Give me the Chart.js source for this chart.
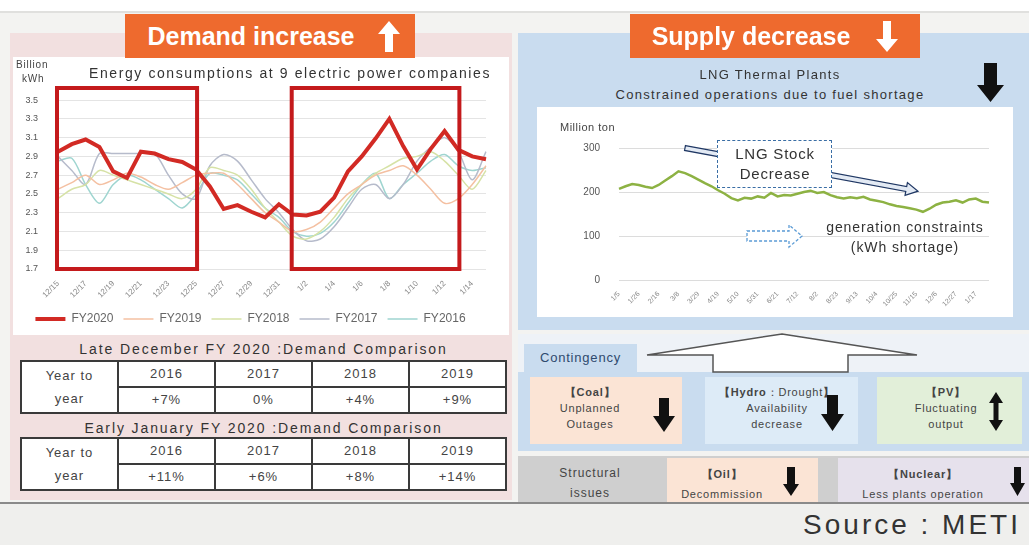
<!DOCTYPE html>
<html><head><meta charset="utf-8">
<script src="https://cdn.jsdelivr.net/npm/chart.js@4.4.1/dist/chart.umd.min.js"></script>
<style>
html,body{margin:0;padding:0;background:#fff}
#root{position:relative;width:1029px;height:545px;overflow:hidden;background:#f3f3f1;font-family:"Liberation Sans",Arial,sans-serif;color:#333}
.a{position:absolute}
.t{position:absolute;white-space:nowrap;text-align:center}
table.cmp{position:absolute;border-collapse:collapse;background:#fff;font-size:13px;letter-spacing:1px;color:#444;table-layout:fixed}
table.cmp td{border:2px solid #3a3a3a;text-align:center;padding:0;height:24px;line-height:16px}
.box{position:absolute}
.sm{font-size:11px;letter-spacing:0.8px;line-height:16px;color:#444}
</style></head>
<body>
<div id="root">
  <div class="a" style="left:0;top:0;width:1029px;height:11px;background:#fff"></div>
  <div class="a" style="left:0;top:11px;width:1029px;height:2px;background:#e0e0de"></div>

  <!-- left panel -->
  <div class="a" style="left:10px;top:33px;width:502px;height:467px;background:#f2e0e0"></div>
  <div class="a" style="left:13px;top:57px;width:496px;height:278px;background:#fff"></div>
  <canvas id="left" class="a" width="493" height="278" style="left:15px;top:57px"></canvas>
  <div class="t" style="left:72px;top:65px;width:436px;font-size:14px;letter-spacing:1.6px;color:#333">Energy consumptions at 9 electric power companies</div>
  <div class="t" style="left:16px;top:59px;width:44px;font-size:10px;letter-spacing:0.8px;color:#444;text-align:left">Billion</div>
  <div class="t" style="left:22px;top:73px;width:40px;font-size:10px;letter-spacing:0.8px;color:#444;text-align:left">kWh</div>

  <div class="t" style="left:20px;top:341px;width:487px;font-size:14px;letter-spacing:1.9px;color:#333">Late December FY 2020 :Demand Comparison</div>
  <table class="cmp" id="tab1" style="left:20px;top:360px;width:487px"></table>
  <div class="t" style="left:20px;top:420px;width:487px;font-size:14px;letter-spacing:1.9px;color:#333">Early January FY 2020 :Demand Comparison</div>
  <table class="cmp" id="tab2" style="left:20px;top:437px;width:487px"></table>

  <!-- right panel -->
  <div class="a" style="left:518px;top:33px;width:511px;height:297px;background:#c9dcef"></div>
  <div class="a" style="left:537px;top:107px;width:476px;height:210px;background:#fff"></div>
  <canvas id="right" class="a" width="476" height="210" style="left:537px;top:107px"></canvas>
  <div class="t" style="left:590px;top:67px;width:360px;font-size:13px;letter-spacing:1.3px;color:#333">LNG Thermal Plants</div>
  <div class="t" style="left:570px;top:87px;width:400px;font-size:13px;letter-spacing:1.3px;color:#333">Constrained operations due to fuel shortage</div>
  <div class="t" style="left:560px;top:121px;font-size:11px;letter-spacing:0.5px;color:#444;text-align:left">Million ton</div>

  <!-- contingency -->
  <div class="a" style="left:518px;top:334px;width:511px;height:38px;background:#eef2f7"></div>
  <div class="a" style="left:518px;top:372px;width:511px;height:79px;background:#c9dcef"></div>
  <div class="a" style="left:524px;top:344px;width:113px;height:28px;background:#c9dcef"></div>
  <div class="t" style="left:524px;top:350px;width:113px;font-size:13px;letter-spacing:0.8px;color:#2f4a6e">Contingency</div>
  <div class="box" style="left:530px;top:377px;width:152px;height:67px;background:#fbe4d5"></div>
  <div class="box" style="left:705px;top:377px;width:153px;height:67px;background:#ddebf7"></div>
  <div class="box" style="left:877px;top:377px;width:145px;height:67px;background:#e2efd9"></div>
  <div class="t sm" style="left:530px;top:384px;width:120px"><b>【Coal】</b><br>Unplanned<br>Outages</div>
  <div class="t sm" style="left:700px;top:384px;width:154px"><b>【Hydro</b>：Drought<b>】</b><br>Availability<br>decrease</div>
  <div class="t sm" style="left:885px;top:384px;width:122px"><b>【PV】</b><br>Fluctuating<br>output</div>

  <div class="a" style="left:518px;top:456px;width:511px;height:46px;background:#cfcfcf"></div>
  <div class="box" style="left:667px;top:458px;width:151px;height:44px;background:#fbe4d5"></div>
  <div class="box" style="left:838px;top:458px;width:191px;height:44px;background:#e6e1ec"></div>
  <div class="t" style="left:540px;top:463px;width:100px;font-size:12px;letter-spacing:1px;line-height:20px;color:#444">Structural<br>issues</div>
  <div class="t sm" style="left:662px;top:464px;width:120px;line-height:20px"><b>【Oil】</b><br>Decommission</div>
  <div class="t sm" style="left:840px;top:464px;width:166px;line-height:20px"><b>【Nuclear】</b><br>Less plants operation</div>

  <!-- bottom -->
  <div class="a" style="left:0;top:502px;width:1029px;height:43px;background:#efefed"></div>
  <div class="a" style="left:0;top:502px;width:1029px;height:2px;background:#8a8a8a"></div>
  <div class="t" style="right:8px;top:509px;font-size:28px;letter-spacing:3px;color:#333">Source : METI</div>

  <!-- title boxes -->
  <div class="a" style="left:125px;top:14px;width:290px;height:44px;background:#ee6a2e"></div>
  <div class="t" style="left:136px;top:22px;width:230px;font-size:25px;font-weight:bold;color:#fff">Demand increase</div>
  <div class="a" style="left:630px;top:14px;width:290px;height:44px;background:#ee6a2e"></div>
  <div class="t" style="left:638px;top:22px;width:226px;font-size:25px;font-weight:bold;color:#fff">Supply decrease</div>

  <svg class="a" style="left:0;top:0" width="1029" height="545" viewBox="0 0 1029 545">
    <polygon points="389,21 400,34 393,34 393,52 385,52 385,34 378,34" fill="#fff"/>
    <polygon points="887,52 898,39 891,39 891,21 883,21 883,39 876,39" fill="#fff"/>
    <polygon points="984,63 997,63 997,85 1004,85 990.5,102 977,85 984,85" fill="#111"/>
    <g transform="translate(685,148) rotate(10.5)">
      <polygon points="0,-2.5 225,-2.5 225,-6.5 237,0 225,6.5 225,2.5 0,2.5" fill="#e3eaf4" stroke="#203864" stroke-width="1.2"/>
    </g>
    <polygon points="747,231 789,231 789,225 802,236 789,247 789,241 747,241" fill="#fff" stroke="#5b9bd5" stroke-width="1.3" stroke-dasharray="3,2"/>
    <polygon points="782,334 917,355 848,355 848,372 713,372 713,355 647,355" fill="#fff" stroke="#555" stroke-width="1.5"/>
    <polygon points="659,398 669,398 669,416 675,416 664,432 653,416 659,416" fill="#111"/>
    <polygon points="827,395 838,395 838,414 844,414 832.5,431 821,414 827,414" fill="#111"/>
    <polygon points="996,392 1003,403 998.5,403 998.5,420 1003,420 996,431 989,420 993.5,420 993.5,403 989,403" fill="#111"/>
    <polygon points="787,467 795,467 795,484 799,484 791,496 783,484 787,484" fill="#111"/>
    <polygon points="1014,467 1021,467 1021,483 1025,483 1017.5,496 1010,483 1014,483" fill="#111"/>
  </svg>

  <div class="a" style="left:717px;top:140px;width:113px;height:46px;background:#fff;border:1.5px dashed #3a6ea5"></div>
  <div class="t" style="left:717px;top:144px;width:116px;font-size:15px;line-height:20px;letter-spacing:0.8px;color:#333">LNG Stock<br>Decrease</div>
  <div class="t" style="left:805px;top:217px;width:200px;font-size:14px;line-height:20px;letter-spacing:0.9px;color:#333">generation constraints<br>(kWh shortage)</div>
</div>

<script>
// ---- Left chart data: daily energy consumption (billion kWh)
const dayLabels = ['12/15','12/16','12/17','12/18','12/19','12/20','12/21','12/22','12/23','12/24','12/25','12/26','12/27','12/28','12/29','12/30','12/31','1/1','1/2','1/3','1/4','1/5','1/6','1/7','1/8','1/9','1/10','1/11','1/12','1/13','1/14','1/15'];
const fy2020 = [2.95,3.03,3.08,3.00,2.74,2.67,2.95,2.93,2.87,2.84,2.76,2.58,2.34,2.38,2.31,2.25,2.39,2.28,2.27,2.31,2.46,2.74,2.90,3.09,3.30,3.01,2.76,2.98,3.17,2.97,2.90,2.87];
const fy2019 = [2.55,2.62,2.70,2.60,2.65,2.72,2.68,2.60,2.55,2.62,2.70,2.72,2.72,2.60,2.45,2.30,2.20,2.10,2.12,2.20,2.35,2.50,2.60,2.70,2.75,2.80,2.70,2.55,2.40,2.45,2.60,2.80];
const fy2018 = [2.45,2.55,2.60,2.75,2.70,2.65,2.60,2.55,2.50,2.45,2.55,2.78,2.75,2.70,2.55,2.35,2.20,2.05,2.02,2.10,2.25,2.45,2.60,2.72,2.80,2.88,2.90,2.95,2.85,2.70,2.55,2.75];
const fy2017 = [2.90,2.75,2.60,2.93,2.93,2.93,2.93,2.93,2.70,2.50,2.45,2.80,2.92,2.85,2.65,2.45,2.30,2.12,2.00,2.02,2.15,2.35,2.55,2.60,2.45,2.60,2.85,3.00,3.10,2.95,2.65,2.95];
const fy2016 = [2.85,2.88,2.60,2.40,2.60,2.70,2.65,2.55,2.45,2.35,2.50,2.72,2.70,2.65,2.50,2.35,2.25,2.10,2.05,2.08,2.20,2.40,2.60,2.72,2.45,2.60,2.72,2.85,2.92,2.80,2.75,2.78];
const leftYTicks = [1.7,1.9,2.1,2.3,2.5,2.7,2.9,3.1,3.3,3.5];
const highlightRanges = [[0,10],[17,29]];

// ---- Right chart data: LNG stock (million ton), weekly
const weekLabels = ['1/5','1/12','1/19','1/26','2/2','2/9','2/16','2/23','3/1','3/8','3/15','3/22','3/29','4/5','4/12','4/19','4/26','5/3','5/10','5/17','5/24','5/31','6/7','6/14','6/21','6/28','7/5','7/12','7/19','7/26','8/2','8/9','8/16','8/23','8/30','9/6','9/13','9/20','9/27','10/4','10/11','10/18','10/25','11/1','11/8','11/15','11/22','11/29','12/6','12/13','12/20','12/27','1/3','1/10','1/17','1/24','1/31'];
const lngStock = [207,213,218,216,212,209,216,226,236,247,243,236,228,220,213,204,196,186,181,187,185,190,187,198,190,193,192,196,200,203,198,200,193,188,185,188,186,189,183,180,177,172,168,166,163,160,155,162,171,176,178,181,176,183,185,178,176];
const rightYTicks = [0,100,200,300];

// ---- Comparison tables
const compYears = ['2016','2017','2018','2019'];
const lateDecChange = ['+7%','0%','+4%','+9%'];
const earlyJanChange = ['+11%','+6%','+8%','+14%'];

function buildTable(id, values){
  const t = document.getElementById(id);
  let h = '<colgroup><col style="width:97px"><col><col><col><col></colgroup>';
  h += '<tr><td rowspan="2" style="line-height:23px">Year to<br>year</td>' + compYears.map(y=>'<td>'+y+'</td>').join('') + '</tr>';
  h += '<tr>' + values.map(v=>'<td>'+v+'</td>').join('') + '</tr>';
  t.innerHTML = h;
}
buildTable('tab1', lateDecChange);
buildTable('tab2', earlyJanChange);

const boxPlugin = {
  id:'boxes',
  afterDatasetsDraw(chart){
    const {ctx, chartArea:a, scales:{x}} = chart;
    ctx.save();
    ctx.strokeStyle = '#c41a1c';
    ctx.lineWidth = 4;
    highlightRanges.forEach(([s,e])=>{
      const l = x.getPixelForValue(s) - 1, r = x.getPixelForValue(e) + 1;
      ctx.strokeRect(l, a.top + 2, r - l, a.bottom - a.top - 2);
    });
    ctx.restore();
  }
};

const thin = (label, data, color) => ({label, data, borderColor:color, backgroundColor:color, borderWidth:1.5, pointRadius:0, tension:0.3});

new Chart(document.getElementById('left'), {
  type:'line',
  data:{labels:dayLabels, datasets:[
    {label:'FY2020', data:fy2020, borderColor:'#d22a24', backgroundColor:'#d22a24', borderWidth:4, pointRadius:0, tension:0},
    thin('FY2019', fy2019, '#f4c0a2'),
    thin('FY2018', fy2018, '#d6e2a6'),
    thin('FY2017', fy2017, '#b6bbcb'),
    thin('FY2016', fy2016, '#9fd5d0')
  ]},
  options:{
    responsive:false, animation:false, devicePixelRatio:1,
    layout:{padding:{left:0,right:22,top:29,bottom:0}},
    plugins:{
      legend:{position:'bottom', labels:{usePointStyle:true, pointStyle:'line', pointStyleWidth:30, color:'#666', font:{size:12, family:'Liberation Sans'}, padding:10}},
      tooltip:{enabled:false}
    },
    scales:{
      x:{grid:{display:false}, border:{display:false},
         afterFit:s=>{s.height=34;},
         ticks:{autoSkip:false, minRotation:45, maxRotation:45, padding:2, font:{size:8, family:'Liberation Sans'}, color:'#888',
                callback:(v,i)=> i%2===0 ? dayLabels[i] : ''}},
      y:{min:1.7, max:3.65,
         afterBuildTicks:s=>{s.ticks = leftYTicks.map(v=>({value:v}));},
         afterFit:s=>{s.width=43;},
         grid:{color:'#e4e4e4', drawTicks:false}, border:{display:false},
         ticks:{padding:20, font:{size:9, family:'Liberation Sans'}, color:'#555', callback:v=>Number(v).toFixed(1)}}
    }
  },
  plugins:[boxPlugin]
});

new Chart(document.getElementById('right'), {
  type:'line',
  data:{labels:weekLabels, datasets:[
    {label:'LNG stock', data:lngStock, borderColor:'#8db243', borderWidth:2.5, pointRadius:0, tension:0}
  ]},
  options:{
    responsive:false, animation:false, devicePixelRatio:1,
    layout:{padding:{left:0,right:24,top:41,bottom:0}},
    plugins:{legend:{display:false}, tooltip:{enabled:false}},
    scales:{
      x:{grid:{display:false}, border:{display:false},
         afterFit:s=>{s.height=37;},
         ticks:{autoSkip:false, minRotation:45, maxRotation:45, padding:2, font:{size:7, family:'Liberation Sans'}, color:'#888',
                callback:(v,i)=> i%3===0 ? weekLabels[i] : ''}},
      y:{min:0, max:300,
         afterBuildTicks:s=>{s.ticks = rightYTicks.map(v=>({value:v}));},
         afterFit:s=>{s.width=82;},
         grid:{color:'#dcdcdc', drawTicks:false}, border:{display:false},
         ticks:{padding:19, font:{size:10, family:'Liberation Sans'}, color:'#555'}}
    }
  }
});
</script>
</body></html>
